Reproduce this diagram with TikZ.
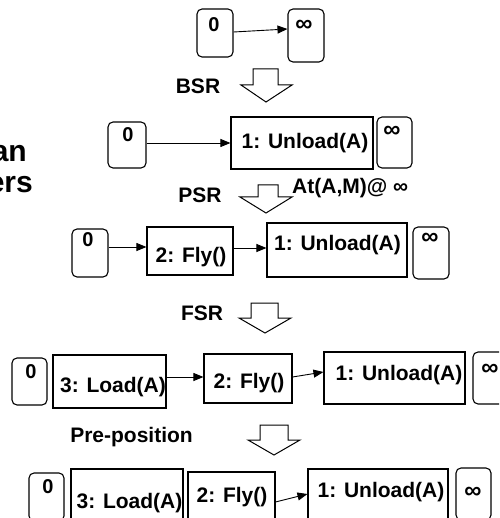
\documentclass[tikz,border=0pt]{standalone}
\usepackage{fontspec}
\setmainfont{Liberation Sans}
\usetikzlibrary{arrows.meta}
\begin{document}
\begin{tikzpicture}[x=1pt,y=-1pt,
  rbox/.style={draw, line width=1.1pt, rounded corners=5pt, inner sep=0pt},
  sbox/.style={draw, line width=1.1pt, inner sep=0pt},
  txt/.style={inner sep=0pt, font=\fontsize{21}{25}\selectfont\bfseries},
  num/.style={inner sep=0pt, font=\fontsize{20}{24}\selectfont\bfseries},
  inf/.style={inner sep=0pt, font=\fontsize{24}{28}\selectfont\bfseries},
  big/.style={inner sep=0pt, anchor=base east, font=\fontsize{30}{34}\selectfont\bfseries},
  conn/.style={line width=0.9pt, -{Triangle[length=10pt,width=8pt]}},
  barrow/.style={draw, line width=1pt, fill=white, line join=miter}]
\useasboundingbox (0,0) rectangle (499,518);
\clip (0,0) rectangle (499,518);

% cut-off side text
\node[big] (sidea) at (27,162) {an};
\node[big] (sideb) at (33,193) {ers};

% ---------- row 1
\node[rbox, minimum width=36pt, minimum height=48pt] (r1z) at (215,33) {};
\node[num] (t1z) at (214,25) {0};
\node[rbox, minimum width=36pt, minimum height=53pt] (r1i) at (306,35.5) {};
\node[inf] (t1i) at (304,26) {∞};
\draw[conn] (r1z.east |- 0,32) -- (r1i.west |- 0,29);

\node[txt] (lbsr) at (198,86) {BSR};
\draw[barrow] (253,69) -- (278,69) -- (278,85) -- (292,85) -- (266,102) -- (241,85) -- (253,85) -- cycle;

% ---------- row 2
\node[rbox, minimum width=38pt, minimum height=46pt] (r2z) at (127,145) {};
\node[num] (t2z) at (128,135) {0};
\node[sbox, minimum width=142pt, minimum height=52pt] (r2u) at (302,143) {};
\node[txt] (t2u) at (305,143) {1: Unload(A)};
\node[rbox, minimum width=35pt, minimum height=51pt] (r2i) at (394.5,142.5) {};
\node[inf] (t2i) at (392,132) {∞};
\draw[conn] (r2z.east |- 0,143) -- (r2u.west |- 0,143);

\node[txt] (lpsr) at (200,195) {PSR};
\node[txt, anchor=west] (lat) at (292,188) {At(A,M)@ ∞};
\draw[barrow] (258,185) -- (278,185) -- (278,197) -- (292,197) -- (266,213) -- (240,197) -- (258,197) -- cycle;

% ---------- row 3
\node[rbox, minimum width=36pt, minimum height=48pt] (r3z) at (90,253) {};
\node[num] (t3z) at (88,240) {0};
\node[sbox, minimum width=86pt, minimum height=48pt] (r3f) at (190,251) {};
\node[txt] (t3f) at (191,257) {2: Fly()};
\node[sbox, minimum width=140pt, minimum height=54pt] (r3u) at (337,250) {};
\node[txt] (t3u) at (337.5,245) {1: Unload(A)};
\node[rbox, minimum width=36pt, minimum height=52pt] (r3i) at (431,253) {};
\node[inf] (t3i) at (430,239) {∞};
\draw[conn] (r3z.east |- 0,247) -- (r3f.west |- 0,247);
\draw[conn] (r3f.east |- 0,248) -- (r3u.west |- 0,248);

\node[txt] (lfsr) at (202,313) {FSR};
\draw[barrow] (251,303) -- (278,303) -- (278,318) -- (291,318) -- (265,333) -- (239,318) -- (251,318) -- cycle;

% ---------- row 4
\node[rbox, minimum width=35pt, minimum height=47pt] (r4z) at (29.5,381.5) {};
\node[num] (t4z) at (31,372) {0};
\node[sbox, minimum width=113pt, minimum height=53pt] (r4l) at (109.5,381.5) {};
\node[txt] (t4l) at (113,387) {3: Load(A)};
\node[sbox, minimum width=88pt, minimum height=49pt] (r4f) at (248,378.5) {};
\node[txt] (t4f) at (249,383) {2: Fly()};
\node[sbox, minimum width=141pt, minimum height=52pt] (r4u) at (394.5,378) {};
\node[txt] (t4u) at (399,375) {1: Unload(A)};
\node[rbox, minimum width=36pt, minimum height=52pt] (r4i) at (491,378) {};
\node[inf] (t4i) at (490,370) {∞};
\draw[conn] (r4l.east |- 0,377) -- (r4f.west |- 0,377);
\draw[conn] (r4f.east |- 0,377) -- (r4u.west |- 0,372);

\node[txt] (lpre) at (131.5,437) {Pre-position};
\draw[barrow] (260,425) -- (288,425) -- (288,440) -- (300,440) -- (274,455) -- (248,440) -- (260,440) -- cycle;

% ---------- row 5
\node[rbox, minimum width=35pt, minimum height=48pt] (r5z) at (46.5,497) {};
\node[num] (t5z) at (48,487) {0};
\node[sbox, minimum width=112pt, minimum height=53pt] (r5l) at (127,495.5) {};
\node[txt] (t5l) at (129.5,503) {3: Load(A)};
\node[sbox, minimum width=87pt, minimum height=49pt] (r5f) at (231.5,496.5) {};
\node[txt] (t5f) at (232,497) {2: Fly()};
\node[sbox, minimum width=140pt, minimum height=53pt] (r5u) at (378,495.5) {};
\node[txt] (t5u) at (381,492) {1: Unload(A)};
\node[rbox, minimum width=35pt, minimum height=52pt] (r5i) at (473.5,494) {};
\node[inf] (t5i) at (473,493) {∞};
\draw[conn] (r5f.east |- 0,502) -- (r5u.west |- 0,494);
\end{tikzpicture}
\end{document}
